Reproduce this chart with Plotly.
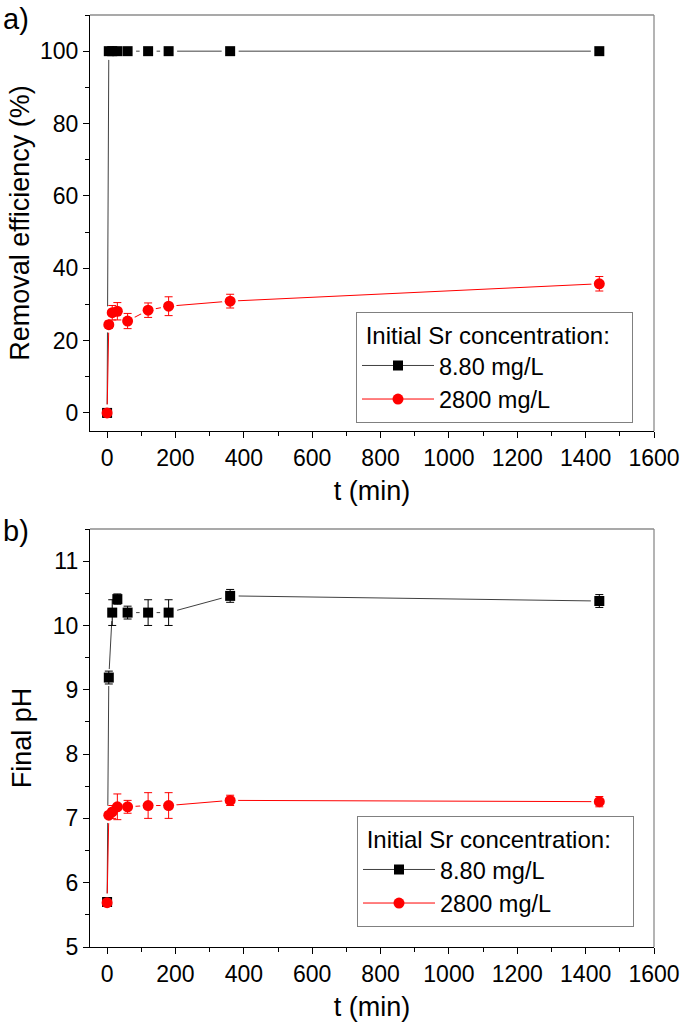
import plotly.graph_objects as go

# ---- data ----
t_min = [0, 5, 15, 30, 60, 120, 180, 360, 1440]

removal_880 = [0, 100, 100, 100, 100, 100, 100, 100, 100]
removal_2800 = [0, 24.4, 27.7, 28.1, 25.4, 28.4, 29.5, 30.9, 35.7]
removal_2800_err = [0.5, 1.0, 2.0, 2.4, 2.1, 2.0, 2.6, 1.9, 2.0]

ph_880 = [5.7, 9.19, 10.2, 10.41, 10.2, 10.2, 10.2, 10.46, 10.38]
ph_880_err = [0.05, 0.1, 0.2, 0.08, 0.1, 0.2, 0.2, 0.1, 0.1]
ph_2800 = [5.69, 7.05, 7.10, 7.18, 7.18, 7.2, 7.2, 7.28, 7.26]
ph_2800_err = [0.05, 0.05, 0.1, 0.2, 0.1, 0.2, 0.2, 0.08, 0.08]

series_names = ["8.80 mg/L", "2800 mg/L"]
legend_title = "&nbsp;Initial Sr concentration:&nbsp;&nbsp;&nbsp;"

FONT = "Liberation Sans, Arial, sans-serif"
BLACK_LINE = "#404040"
RED = "#ff0000"

W, H = 685, 1028
L, R, T, B = 90, 31, 15, 81
plot_h = H - T - B
def py(p):  # pixel y -> paper y
    return (H - B - p) / plot_h
def px(p):
    return (p - L) / (W - L - R)

fig = go.Figure()

def add_pair(xa, ya, y_black, y_red, err_black, err_red, legend):
    common = dict(x=t_min, xaxis=xa, yaxis=ya, legend=legend)
    # lines (carry the legend entries)
    fig.add_trace(go.Scatter(y=y_black, name=series_names[0], mode="lines+markers",
                             line=dict(color=BLACK_LINE, width=1),
                             marker=dict(symbol="square", size=10, color="#000000"),
                             **common))
    fig.add_trace(go.Scatter(y=y_red, name=series_names[1], mode="lines+markers",
                             line=dict(color=RED, width=1),
                             marker=dict(symbol="circle", size=11, color=RED),
                             **common))
    # white gaps around symbols (Origin style)
    fig.add_trace(go.Scatter(y=y_black, mode="markers", showlegend=False, hoverinfo="skip",
                             marker=dict(symbol="square", size=17, color="#ffffff"), **common))
    fig.add_trace(go.Scatter(y=y_red, mode="markers", showlegend=False, hoverinfo="skip",
                             marker=dict(symbol="circle", size=16, color="#ffffff"), **common))
    # symbols with error bars
    fig.add_trace(go.Scatter(y=y_black, mode="markers", showlegend=False, name=series_names[0],
                             marker=dict(symbol="square", size=10, color="#000000"),
                             error_y=(dict(type="data", array=err_black, color="#000000",
                                           thickness=1, width=4)
                                      if err_black is not None else None),
                             **common))
    fig.add_trace(go.Scatter(y=y_red, mode="markers", showlegend=False, name=series_names[1],
                             marker=dict(symbol="circle", size=11, color=RED),
                             error_y=dict(type="data", array=err_red, color=RED,
                                          thickness=1, width=4),
                             **common))

add_pair("x", "y", removal_880, removal_2800, None, removal_2800_err, "legend")
add_pair("x2", "y2", ph_880, ph_2800, ph_880_err, ph_2800_err, "legend2")

top_dom = [py(431), 1.0]
bot_dom = [0.0, py(529)]

tickfont = dict(family=FONT, size=23, color="#000")
titlefont = dict(family=FONT, size=27, color="#000")

def xaxis_cfg(anchor):
    return dict(
        domain=[0, 1], anchor=anchor, range=[-50, 1600], dtick=200, tick0=0,
        ticks="outside", ticklen=6, tickwidth=1.2, tickcolor="#000",
        minor=dict(dtick=100, ticks="outside", ticklen=3.5, tickwidth=1.2, tickcolor="#000"),
        showline=True, linecolor="#000", linewidth=1.3, mirror=False,
        showgrid=False, zeroline=False, tickfont=tickfont, automargin=False,
        title=dict(text="t (min)", font=titlefont, standoff=11),
    )

def yaxis_cfg(anchor, dom, rng, dtick, mdtick, title, standoff):
    return dict(
        domain=dom, anchor=anchor, range=rng, dtick=dtick,
        ticks="outside", ticklen=6, tickwidth=1.2, tickcolor="#000",
        minor=dict(dtick=mdtick, ticks="outside", ticklen=3.5, tickwidth=1.2, tickcolor="#000"),
        showline=True, linecolor="#000", linewidth=1.3, mirror=False,
        showgrid=False, zeroline=False, tickfont=tickfont, automargin=False,
        title=dict(text=title, font=titlefont, standoff=standoff),
    )

legend_common = dict(
    title=dict(text=legend_title, font=dict(family=FONT, size=24, color="#000")),
    font=dict(family=FONT, size=23.5, color="#000"),
    bgcolor="#ffffff", bordercolor="#808080", borderwidth=1,
    xanchor="left", yanchor="middle", itemwidth=72,
    tracegroupgap=0,
)

fig.update_layout(
    template="none",
    width=W, height=H, margin=dict(l=L, r=R, t=T, b=B, autoexpand=False),
    paper_bgcolor="#ffffff", plot_bgcolor="#ffffff",
    showlegend=True, hovermode=False,
    xaxis=xaxis_cfg("y"),
    yaxis=yaxis_cfg("x", top_dom, [-5, 110], 20, 10, "Removal efficiency (%)", 2),
    xaxis2=xaxis_cfg("y2"),
    yaxis2=yaxis_cfg("x2", bot_dom, [5, 11.5], 1, 0.5, "Final pH", 13),
    legend=dict(x=px(356), y=py(367), **legend_common),
    legend2=dict(x=px(357), y=py(871), **legend_common),
)

# gray frame on top / right of each panel
for xr, yr in [("x domain", "y domain"), ("x2 domain", "y2 domain")]:
    fig.add_shape(type="line", xref=xr, yref=yr, x0=0, x1=1, y0=1, y1=1,
                  line=dict(color="#8c8c8c", width=1.3))
    fig.add_shape(type="line", xref=xr, yref=yr, x0=1, x1=1, y0=0, y1=1,
                  line=dict(color="#8c8c8c", width=1.3))

fig.add_annotation(text="a)", xref="paper", yref="paper", x=px(1), y=py(19),
                   xanchor="left", yanchor="middle", showarrow=False,
                   font=dict(family=FONT, size=29, color="#000"))
fig.add_annotation(text="b)", xref="paper", yref="paper", x=px(1), y=py(531),
                   xanchor="left", yanchor="middle", showarrow=False,
                   font=dict(family=FONT, size=29, color="#000"))

fig.write_html("out.html", config={"displayModeBar": False},
               post_script="document.body.style.margin='0px';document.body.style.overflow='hidden';")
